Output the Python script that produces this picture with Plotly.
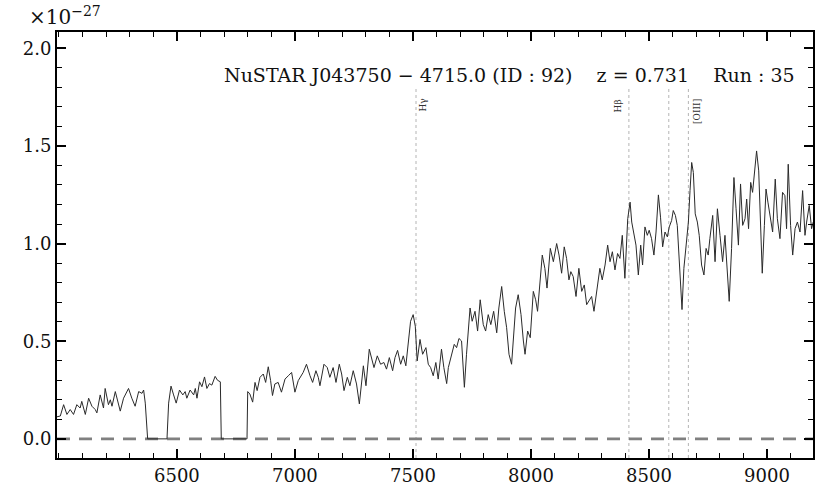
import plotly.graph_objects as go

# Flux in units of 1e-27 (as labelled on the axis)
WAVELENGTH = [
    5992, 6006, 6020, 6034, 6048, 6062, 6076, 6090, 6097, 6112,
    6126, 6140, 6154, 6161, 6175, 6189, 6196, 6210, 6218, 6225,
    6239, 6253, 6260, 6274, 6295, 6309, 6323, 6338, 6352, 6359,
    6366, 6376, 6458, 6465, 6475, 6486, 6497, 6511, 6525, 6535,
    6542, 6556, 6571, 6578, 6585, 6596, 6606, 6617, 6627, 6638,
    6648, 6662, 6672, 6684, 6688, 6797, 6800,
    6809, 6821, 6831, 6840, 6852, 6866, 6876, 6887, 6897, 6905,
    6915, 6929, 6943, 6958, 6972, 6986, 7000, 7014, 7035, 7049,
    7064, 7075, 7089, 7099, 7106, 7123, 7137, 7148, 7162, 7174,
    7188, 7198, 7208, 7222, 7233, 7247, 7261, 7273, 7290, 7301,
    7315, 7325, 7335, 7349, 7363, 7377, 7388, 7400, 7414, 7424,
    7435, 7448, 7459, 7470, 7480, 7490, 7501, 7510, 7518, 7530,
    7541, 7555, 7565, 7575, 7586, 7597, 7607, 7621, 7631,
    7643, 7650, 7661, 7675, 7685, 7695, 7706, 7718, 7727, 7742,
    7751, 7763, 7774, 7785, 7798, 7808, 7819, 7830, 7842, 7855,
    7864, 7876, 7887, 7897, 7907, 7918, 7925, 7935, 7946, 7958,
    7968, 7975, 7986, 7997, 8010, 8020, 8028, 8037, 8048, 8059,
    8068, 8082, 8095, 8109, 8119, 8130, 8141, 8151, 8161, 8169,
    8179, 8191, 8203, 8215, 8226, 8236, 8246, 8257, 8267, 8280,
    8292, 8302, 8314, 8325, 8335, 8345, 8356, 8367, 8377, 8387,
    8398, 8410,
    8420, 8427, 8436, 8445, 8455, 8465, 8473, 8483, 8493, 8501,
    8511, 8521, 8530, 8540, 8549, 8558, 8568, 8578, 8586, 8596,
    8603, 8612, 8620, 8631, 8640, 8648, 8657, 8667, 8674, 8681,
    8688, 8696, 8705, 8713, 8723, 8733, 8742, 8751, 8758, 8770,
    8780, 8790, 8801, 8812, 8822, 8832, 8840, 8850, 8860, 8869,
    8879, 8888, 8897, 8907, 8914, 8922, 8931, 8939, 8949, 8956,
    8965, 8973, 8980, 8989, 8996, 9004, 9013, 9024, 9035, 9044,
    9055, 9066, 9076, 9083, 9090, 9100, 9109, 9119, 9129, 9140,
    9151, 9161, 9168, 9179, 9189, 9196, 9203,
]

FLUX = [
    0.113, 0.117, 0.175, 0.125, 0.15, 0.125, 0.175, 0.158, 0.192, 0.125,
    0.208, 0.167, 0.15, 0.133, 0.225, 0.158, 0.258, 0.175, 0.2, 0.167,
    0.242, 0.167, 0.142, 0.208, 0.258, 0.208, 0.167, 0.242, 0.233, 0.25,
    0.183, 0.0, 0.0, 0.183, 0.27, 0.225, 0.183, 0.25, 0.225, 0.242,
    0.208, 0.25, 0.225, 0.258, 0.208, 0.292, 0.267, 0.317, 0.258, 0.283,
    0.275, 0.32, 0.3, 0.292, 0.0, 0.0, 0.242,
    0.23, 0.188, 0.289, 0.247, 0.315, 0.332, 0.289, 0.369, 0.298, 0.222,
    0.281, 0.289, 0.239, 0.306, 0.323, 0.34, 0.239, 0.298, 0.34, 0.382,
    0.323, 0.289, 0.349, 0.315, 0.272, 0.382, 0.365, 0.315, 0.365, 0.289,
    0.382, 0.332, 0.247, 0.315, 0.272, 0.349, 0.281, 0.179, 0.374, 0.272,
    0.459, 0.408, 0.365, 0.425, 0.382, 0.391, 0.357, 0.416, 0.349, 0.416,
    0.453, 0.382, 0.425, 0.374, 0.509, 0.602, 0.636, 0.577, 0.399, 0.509,
    0.433, 0.467, 0.382, 0.365, 0.323, 0.391, 0.306, 0.459, 0.365,
    0.283, 0.365, 0.416, 0.484, 0.467, 0.514, 0.501, 0.264, 0.433, 0.670,
    0.602, 0.653, 0.552, 0.712, 0.585, 0.552, 0.636, 0.585, 0.653, 0.543,
    0.670, 0.780, 0.653, 0.569, 0.433, 0.382, 0.501, 0.670, 0.738, 0.636,
    0.501, 0.433, 0.552, 0.518, 0.755, 0.712, 0.653, 0.805, 0.941, 0.873,
    0.772, 0.975, 0.907, 1.0, 0.941, 0.848, 0.983, 0.924, 0.814, 0.856,
    0.831, 0.729, 0.873, 0.755, 0.788, 0.687, 0.704, 0.729, 0.653, 0.763,
    0.873, 0.814, 0.890, 0.992, 0.907, 0.958, 0.865, 0.949, 0.924, 1.042,
    0.822, 1.127,
    1.212, 1.110, 1.059, 0.992, 0.839, 0.992, 0.890, 1.085, 1.042, 1.068,
    1.025, 0.941, 1.059, 1.249, 1.135, 0.983, 1.059, 1.034, 1.085, 1.118,
    1.169, 1.144, 1.093, 0.839, 0.662, 0.873, 0.992, 1.110, 1.271, 1.415,
    1.364, 1.152, 1.110, 1.042, 0.890, 0.839, 0.975, 0.941, 1.025, 1.144,
    0.907, 1.178, 1.042, 0.907, 1.042, 0.839, 0.704, 0.975, 1.338, 1.178,
    0.992, 1.305, 1.093, 1.127, 1.228, 1.076, 1.313, 1.262, 1.372, 1.474,
    1.372, 1.076, 0.848, 1.093, 1.279, 1.212, 1.152, 1.059, 1.330, 1.127,
    1.025, 1.262, 1.245, 1.076, 1.406, 1.093, 0.941, 1.076, 1.110, 1.059,
    1.271, 1.042, 1.110, 1.195, 1.076, 1.110, 1.093,
]

# Emission lines at z = 0.731 (observed wavelengths)
LINE_WAVES = [7513, 8415, 8584, 8667]
LINE_LABELS = ["H\u03b3", "H\u03b2", "", "[OIII]"]
LABEL_SHIFTS = [7, -11, 0, 8]

X_TICKS = [6500, 7000, 7500, 8000, 8500, 9000]
Y_TICKS = [0.0, 0.5, 1.0, 1.5, 2.0]
X_RANGE = [5992, 9195]
Y_RANGE = [-0.098, 2.083]

TITLE = "NuSTAR J043750 \u2212 4715.0 (ID : 92)    z = 0.731    Run : 35"

assert len(WAVELENGTH) == len(FLUX), (len(WAVELENGTH), len(FLUX))

FONT = "DejaVu Serif"

fig = go.Figure()

# zero level dashed line
fig.add_trace(go.Scatter(
    x=X_RANGE, y=[0, 0], mode="lines",
    line=dict(color="#808080", width=2.6, dash="13px,9px"),
    hoverinfo="skip", showlegend=False,
))

fig.add_trace(go.Scatter(
    x=WAVELENGTH, y=FLUX, mode="lines",
    line=dict(color="#2a2a2a", width=1),
    showlegend=False,
))

shapes = []
annotations = []
for w, lab, sh in zip(LINE_WAVES, LINE_LABELS, LABEL_SHIFTS):
    shapes.append(dict(type="line", xref="x", yref="y", x0=w, x1=w,
                       y0=Y_RANGE[0], y1=1.80,
                       line=dict(color="#b4b4b4", width=1, dash="3px,3px"),
                       layer="below"))
    if lab:
        annotations.append(dict(x=w, y=1.75, xref="x", yref="y", text=lab,
                                showarrow=False, textangle=-90,
                                xanchor="center", yanchor="top", xshift=sh,
                                font=dict(family=FONT, size=9, color="#333")))

annotations.append(dict(x=0.979, y=0.9, xref="paper", yref="paper", text=TITLE,
                        showarrow=False, xanchor="right", yanchor="middle",
                        font=dict(family=FONT, size=19, color="#111")))
annotations.append(dict(x=0.0, y=1.0, xref="paper", yref="paper",
                        text="\u00d710<sup>\u221227</sup>",
                        showarrow=False, xanchor="left", yanchor="bottom",
                        yshift=1, xshift=-30,
                        font=dict(family=FONT, size=20, color="#111")))

axis_common = dict(
    showline=True, linecolor="black", linewidth=2, mirror="allticks",
    ticks="inside", ticklen=9, tickwidth=1.6, tickcolor="black",
    showgrid=False, zeroline=False,
    tickfont=dict(family=FONT, size=18, color="#111"),
)

fig.update_layout(
    width=830, height=498,
    margin=dict(l=57, r=17, t=32, b=36),
    paper_bgcolor="white", plot_bgcolor="white",
    shapes=shapes, annotations=annotations,
    xaxis=dict(range=X_RANGE, tickvals=X_TICKS,
               minor=dict(ticks="inside", ticklen=5, tickwidth=1.4,
                          tickcolor="black", dtick=100, tick0=6000),
               **axis_common),
    yaxis=dict(range=Y_RANGE, tickvals=Y_TICKS, tickformat=".1f",
               minor=dict(ticks="inside", ticklen=5, tickwidth=1.4,
                          tickcolor="black", dtick=0.1, tick0=0),
               **axis_common),
)

fig.write_html("out.html",
               config={"displayModeBar": False},
               post_script="document.body.style.margin='0px';")
